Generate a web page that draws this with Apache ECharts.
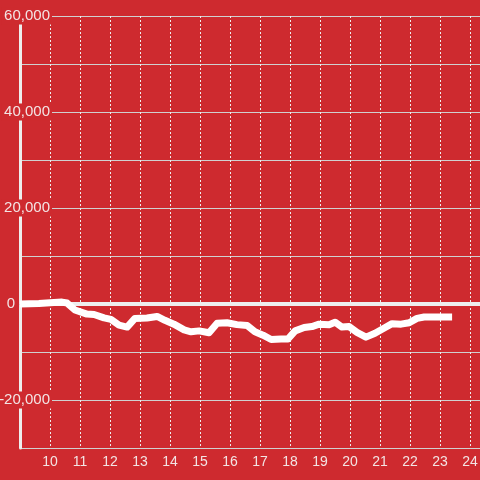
<!DOCTYPE html>
<html>
<head>
<meta charset="utf-8">
<script src="https://cdn.jsdelivr.net/npm/echarts@6/dist/echarts.min.js"></script>
<style>
  html, body { margin: 0; padding: 0; background: #ce2a2f; }
  #chart { width: 480px; height: 480px; }
</style>
</head>
<body>
<div id="chart"></div>
<script>
// 时间（小时）和数值
const hours = [
  9.0, 9.63, 10.13, 10.4, 10.57, 10.83, 11.23, 11.47, 11.8, 12.03,
  12.3, 12.57, 12.83, 13.23, 13.57, 13.83, 14.13, 14.47, 14.7, 14.97,
  15.3, 15.57, 15.9, 16.23, 16.57, 16.83, 17.1, 17.37, 17.7, 17.93,
  18.17, 18.47, 18.73, 18.97, 19.3, 19.5, 19.73, 19.97, 20.23, 20.53,
  20.83, 21.17, 21.4, 21.7, 21.97, 22.23, 22.47, 22.97, 23.4
]
const values = [
  0, 100, 300, 400, 200, -1250, -2100, -2200, -2900, -3200,
  -4400, -4800, -3000, -2900, -2600, -3400, -4200, -5400, -5800, -5600,
  -6000, -4000, -3900, -4300, -4500, -5800, -6500, -7400, -7300, -7300,
  -5600, -4900, -4700, -4200, -4300, -3800, -4800, -4700, -5900, -6900,
  -6100, -4900, -4100, -4200, -3900, -3000, -2700, -2700, -2700
]
const yLabels = [-20000, 0, 20000, 40000, 60000]

const bg = '#ce2a2f'
const textColor = '#f3e4e4'

function chartOpts () {
  return {
    backgroundColor: bg,
    animation: false,
    grid: {
      left: 20,
      right: 0,
      top: 16,
      bottom: 32,
      containLabel: false,
      outerBoundsMode: 'none',
    },
    xAxis: {
      type: 'value',
      min: 9,
      max: 24.33,
      interval: 1,
      axisLine: {
        show: true,
        lineStyle: { color: '#d0d0d0', width: 1 },
      },
      axisTick: { show: false },
      axisLabel: {
        color: textColor,
        fontSize: 14,
        fontFamily: 'Liberation Sans',
        margin: 7,
        formatter (v) {
          if (v === 9 || v !== Math.round(v)) return ''
          return String(v)
        },
      },
      splitLine: {
        show: true,
        lineStyle: { color: '#eeeeee', width: 1, type: [2, 2] },
      },
    },
    yAxis: {
      type: 'value',
      min: -30000,
      max: 60000,
      interval: 10000,
      axisLine: {
        show: true,
        lineStyle: { color: '#eeeeee', width: 3 },
      },
      axisTick: { show: false },
      axisLabel: {
        margin: -32,
        align: 'right',
        formatter (v) {
          if (yLabels.indexOf(v) < 0) return ''
          if (v === 0) return '{z|0}'
          return '{a|' + v.toLocaleString('en-US') + '}'
        },
        rich: {
          a: {
            color: textColor,
            fontSize: 15,
            fontFamily: 'Liberation Sans',
            backgroundColor: bg,
            padding: [1, 2, 1, 3],
          },
          z: {
            color: textColor,
            fontSize: 15,
            fontFamily: 'Liberation Sans',
            padding: [1, 37, 1, 0],
          },
        },
      },
      splitLine: {
        show: true,
        lineStyle: { color: '#d0d0d0', width: 1 },
      },
    },
    series: [
      {
        type: 'line',
        data: hours.map((h, i) => [h, values[i]]),
        showSymbol: false,
        symbol: 'none',
        lineStyle: { color: '#ffffff', width: 7, join: 'round' },
        z: 3,
        markLine: {
          silent: true,
          symbol: 'none',
          label: { show: false },
          lineStyle: { color: '#eeeeee', width: 4, type: 'solid' },
          data: [{ yAxis: 0 }],
          z: 2,
        },
      },
    ],
  }
}

const chart = echarts.init(document.getElementById('chart'), null, { renderer: 'canvas' })
chart.setOption(chartOpts())
</script>
</body>
</html>
